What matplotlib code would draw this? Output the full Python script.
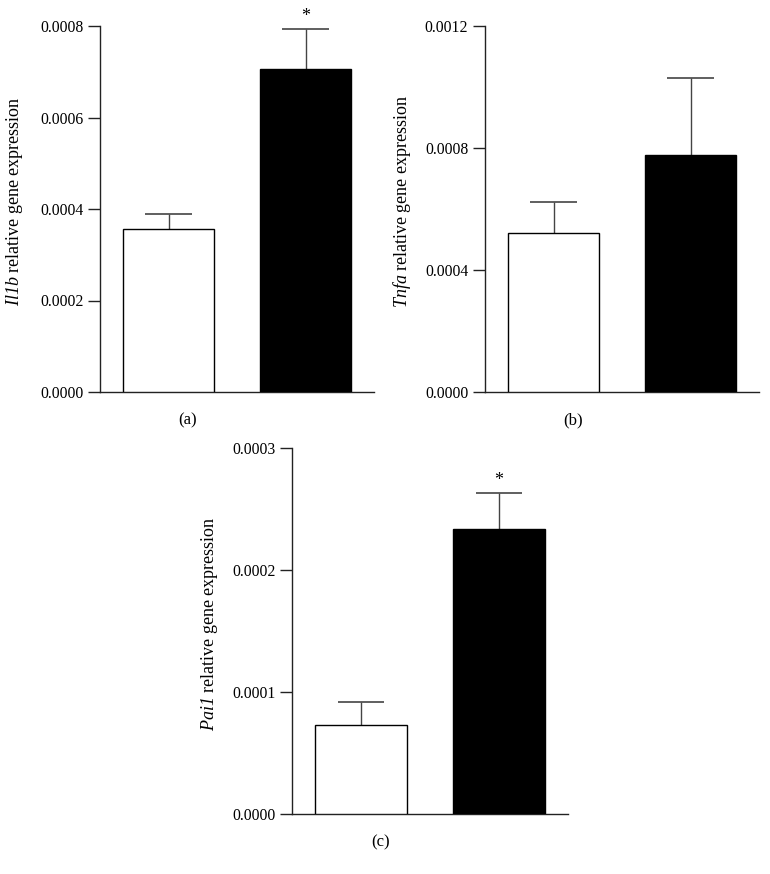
import matplotlib
matplotlib.use("Agg")
import matplotlib.pyplot as plt
import numpy as np

plt.rcParams['font.family'] = ['Liberation Serif', 'DejaVu Serif']
plt.rcParams['mathtext.fontset'] = 'custom'
plt.rcParams['mathtext.rm'] = 'Liberation Serif:italic'
plt.rcParams['mathtext.it'] = 'Liberation Serif:italic'

groups = ["Control", "Treated"]
bar_colors = ["white", "black"]

il1b_mean = [0.000357, 0.000706]
il1b_err = [0.000033, 0.000088]
il1b_sig = ["", "*"]
il1b_ticks = [0.0, 0.0002, 0.0004, 0.0006, 0.0008]

tnfa_mean = [0.000521, 0.000777]
tnfa_err = [0.000102, 0.000253]
tnfa_sig = ["", ""]
tnfa_ticks = [0.0, 0.0004, 0.0008, 0.0012]

pai1_mean = [0.000073, 0.000234]
pai1_err = [0.000019, 0.000029]
pai1_sig = ["", "*"]
pai1_ticks = [0.0, 0.0001, 0.0002, 0.0003]

panels = [
    (r"$\mathit{Il1b}$ relative gene expression", il1b_mean, il1b_err, il1b_sig, il1b_ticks, "(a)"),
    (r"$\mathit{Tnfa}$ relative gene expression", tnfa_mean, tnfa_err, tnfa_sig, tnfa_ticks, "(b)"),
    (r"$\mathit{Pai1}$ relative gene expression", pai1_mean, pai1_err, pai1_sig, pai1_ticks, "(c)"),
]

W, H = 770, 874
fig = plt.figure(figsize=(W / 100, H / 100), dpi=100)

# axes rectangles in pixels: (left, top of axis, width, height)
rects = [(100, 26, 274, 366), (485, 26, 274, 366), (292, 448, 276, 366)]
label_x = [-0.274, -0.263, -0.261]

line_c = '#222222'
for (ylabel, mean, err, sig, ticks, tag), (lx, ty, w, h), lxc in zip(panels, rects, label_x):
    ax = fig.add_axes([lx / W, 1 - (ty + h) / H, w / W, h / H])
    x = np.arange(len(groups))
    width = 0.664
    ax.bar(x, mean, width=width, color=bar_colors, edgecolor='black', linewidth=1.0, zorder=3)
    tops = np.array(mean) + np.array(err)
    ax.vlines(x, mean, tops, color='#444444', linewidth=1.0, zorder=2)
    ax.hlines(tops, x - 0.168, x + 0.168, color='#444444', linewidth=1.2, zorder=2)
    for xi, t, s in zip(x, tops, sig):
        if s:
            ax.annotate(s, (xi, t), xytext=(0, 9), textcoords='offset points',
                        ha='center', va='center', fontsize=13)
    ax.set_xlim(-0.5, 1.5)
    ax.set_ylim(ticks[0], ticks[-1])
    ax.set_yticks(ticks)
    ax.set_yticklabels([f"{t:.4f}" for t in ticks], fontsize=11.3)
    ax.set_xticks([])
    for sp in ['top', 'right']:
        ax.spines[sp].set_visible(False)
    for sp in ['left', 'bottom']:
        ax.spines[sp].set_color(line_c)
        ax.spines[sp].set_linewidth(1.0)
    ax.tick_params(axis='y', length=9, width=1.0, color=line_c, pad=3)
    ax.set_ylabel(ylabel, fontsize=13)
    ax.yaxis.set_label_coords(lxc, 0.52)
    ax.text(0.32, -0.078, tag, transform=ax.transAxes, ha='center', va='center', fontsize=12)

fig.savefig("out.png", dpi=100, facecolor='white')
